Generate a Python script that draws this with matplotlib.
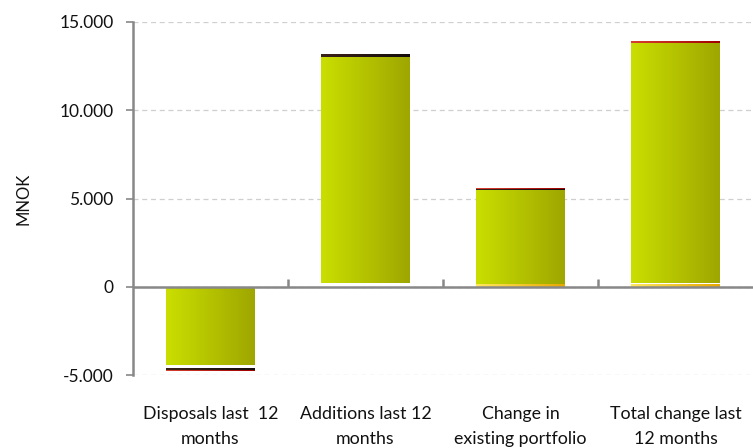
import numpy as np
import matplotlib
matplotlib.use("Agg")
import matplotlib.pyplot as plt
from matplotlib.colors import LinearSegmentedColormap
from matplotlib.ticker import FuncFormatter, MultipleLocator

plt.rcParams['font.family'] = ['Lato', 'DejaVu Sans']

# ===== data (MNOK) =====
categories = ["Disposals last  12\nmonths", "Additions last 12\nmonths",
              "Change in\nexisting portfolio", "Total change last\n12 months"]
# stacked segments, from zero outward
yellow_part = [0, 0, 130, 130]
gap_part = [0, 190, 0, 110]
main_part = [-4450, 12800, 5350, 13560]
gap2_part = [-130, 0, 0, 0]
black_part = [-150, 170, 40, 30]
red_part = [-30, 0, 70, 80]

segments = [
    (yellow_part, ("#ffe860", "#e8a800")),
    (gap_part, None),
    (main_part, ("#cadf00", "#9ea600")),
    (gap2_part, None),
    (black_part, ("#3a2218", "#140c0c")),
    (red_part, ("#d84030", "#a00000")),
]

fig = plt.figure(figsize=(7.53, 4.48), dpi=100)
ax = fig.add_axes([133 / 753, 1 - 375 / 448, 620 / 753, (375 - 22) / 448])

x = np.arange(len(categories))
width = 0.57
base = np.zeros(len(categories))

grad = np.linspace(0, 1, 256).reshape(1, -1)
for vals, cols in segments:
    vals = np.array(vals, dtype=float)
    bars = ax.bar(x, vals, width, bottom=base, color="white", linewidth=0, zorder=2)
    if cols is not None:
        cmap = LinearSegmentedColormap.from_list("g", list(cols))
        for b, v in zip(bars, vals):
            if v == 0:
                continue
            x0 = b.get_x()
            y0 = b.get_y()
            h = b.get_height()
            im = ax.imshow(grad, cmap=cmap, aspect="auto", zorder=3,
                           extent=[x0, x0 + b.get_width(), min(y0, y0 + h), max(y0, y0 + h)])
            im.set_clip_path(b)
    base = base + vals

ax.set_xlim(-0.5, len(categories) - 0.5)
ax.set_ylim(-5000, 15000)
ax.yaxis.set_major_locator(MultipleLocator(5000))
ax.yaxis.set_major_formatter(FuncFormatter(lambda v, p: f"{int(v):,}".replace(",", ".")))
ax.grid(axis="y", color="#cfcfcf", linestyle=(0, (4, 3)), linewidth=0.9, zorder=0)

# category axis line at zero with tick marks between categories
ax.axhline(-25, color="#888888", linewidth=1.8, zorder=4)
ax.vlines(x[:-1] + 0.5, -25, 450, color="#888888", linewidth=1.8, zorder=4)

for s in ["top", "right", "bottom"]:
    ax.spines[s].set_visible(False)
ax.spines["left"].set_color("#888888")
ax.spines["left"].set_linewidth(1.8)

ax.set_xticks(x)
ax.set_xticklabels(categories, fontsize=12.8, color="#111111", linespacing=1.75)
ax.tick_params(axis="x", length=0, pad=22)
ax.tick_params(axis="y", length=5, width=1.2, color="#888888", labelsize=12.5, labelcolor="#111111", pad=9)
ax.set_ylabel("MNOK", fontsize=12, color="#111111", labelpad=20)

fig.savefig("out.png", dpi=100)
